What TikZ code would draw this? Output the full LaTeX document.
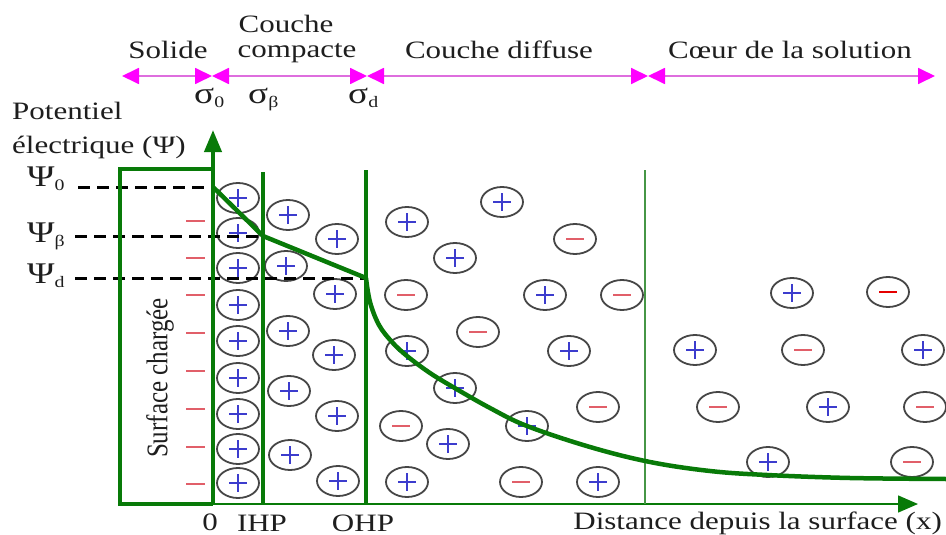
\documentclass[tikz,border=0pt]{standalone}
\usepackage{fontspec}
\setmainfont{Liberation Serif}
\usepackage{graphicx}
\usetikzlibrary{arrows.meta}
\definecolor{dgreen}{RGB}{8,122,8}
\definecolor{lgreen}{RGB}{70,150,70}
\definecolor{mag}{RGB}{255,0,255}
\definecolor{magl}{RGB}{222,110,222}
\definecolor{ring}{RGB}{70,70,70}
\definecolor{pblue}{RGB}{60,60,205}
\definecolor{mred}{RGB}{225,95,105}
\definecolor{txt}{RGB}{30,30,30}
\newcommand{\wt}[1]{\scalebox{1.24}[1]{#1}}
\newcommand{\gsub}[2]{\scalebox{1.24}[1]{#1\raisebox{-4pt}{\fontsize{16}{16}\selectfont #2}}}
\newcommand{\ionplus}[2]{%
  \draw[ionring] (#1,#2) ellipse [x radius=21pt, y radius=15pt];
  \draw[plusline] (#1-9,#2) -- (#1+9,#2) (#1,#2-9) -- (#1,#2+9);}
\newcommand{\ionminus}[2]{%
  \draw[ionring] (#1,#2) ellipse [x radius=21pt, y radius=15pt];
  \draw[minusline] (#1-9,#2) -- (#1+9,#2);}
\begin{document}
\begin{tikzpicture}[x=1pt,y=-1pt,
  lbl/.style={font=\fontsize{25}{30}\selectfont, text=txt, inner sep=0pt},
  glbl/.style={font=\fontsize{30}{32}\selectfont, text=txt, inner sep=0pt},
  ionring/.style={draw=ring, line width=1.8pt},
  plusline/.style={draw=pblue, line width=1.3pt},
  minusline/.style={draw=mred, line width=1.6pt},
  thick green/.style={draw=dgreen, line width=4pt},
  thin green/.style={draw=lgreen, line width=1.5pt},
  magarrow/.style={draw=magl, line width=1.8pt,
     {Triangle[length=17pt,width=16pt,fill=mag,color=mag]}-{Triangle[length=17pt,width=16pt,fill=mag,color=mag]}},
  dashline/.style={draw=black, line width=3pt, dash pattern=on 12pt off 7pt},
  curve/.style={draw=dgreen, line width=4.5pt, line join=round}]
\useasboundingbox (0,0) rectangle (946,535);

% top region arrows
\coordinate (t0) at (122,76);
\coordinate (t1) at (212,76);
\coordinate (t2) at (367,76);
\coordinate (t3) at (648,76);
\coordinate (t4) at (935,76);
\draw[magarrow] (t0) -- (t1);
\draw[magarrow] (t1) -- (t2);
\draw[magarrow] (t2) -- (t3);
\draw[magarrow] (t3) -- (t4);

\node[lbl] (solide) at (168,50) {\wt{Solide}};
\node[lbl] (couche1) at (286,24) {\wt{Couche}};
\node[lbl] (couche2) at (297,53) {\wt{compacte}};
\node[lbl] (diffuse) at (499,50) {\wt{Couche diffuse}};
\node[lbl] (coeur) at (790,50) {\wt{Cœur de la solution}};
\node[glbl, anchor=base west] (s0) at (194,103) {\gsub{σ}{0}};
\node[glbl, anchor=base west] (sb) at (248,103) {\gsub{σ}{β}};
\node[glbl, anchor=base west] (sd) at (348,103) {\gsub{σ}{d}};

% axis labels
\node[lbl, anchor=west] (pot) at (12,111) {\wt{Potentiel}};
\node[lbl, anchor=west] (elec) at (12,147) {\wt{électrique (Ψ)}};
\node[glbl, anchor=base west] (p0) at (27,186) {\gsub{Ψ}{0}};
\node[glbl, anchor=base west] (pb) at (27,242) {\gsub{Ψ}{β}};
\node[glbl, anchor=base west] (pd) at (27,283) {\gsub{Ψ}{d}};

% ions: compact layer
\foreach \y in {198,233,268,305,341,378,414,449,483} {\ionplus{238}{\y}}
\foreach \x/\y in {288/215,286/266,288/331,289/391,290/455,
                   337/239,335/294,334/355,337/416,338/481} {\ionplus{\x}{\y}}
% diffuse layer
\foreach \x/\y in {407/222,502/202,455/258,545/295,407/351,569/351,455/388,
                   527/426,448/444,407/482,598/482} {\ionplus{\x}{\y}}
\foreach \x/\y in {575/239,406/295,622/295,478/332,598/407,401/426,521/482}
  {\ionminus{\x}{\y}}
% bulk
\foreach \x/\y in {792/293,695/350,923/350,828/407,768/462} {\ionplus{\x}{\y}}
\foreach \x/\y in {803/350,718/407,925/407,912/462} {\ionminus{\x}{\y}}
\draw[ionring] (888,292) ellipse [x radius=21pt, y radius=15pt];
\draw[draw=red!90!black, line width=2.2pt] (879,292) -- (897,292);

% surface charges
\foreach \y in {221,258,295,333,371,409,447,484}
  \draw[minusline] (186,\y) -- (205,\y);

% dashed potential levels
\coordinate (d0a) at (78,187);  \coordinate (d0b) at (213,187);
\coordinate (dba) at (75,236);  \coordinate (dbb) at (263,236);
\coordinate (dda) at (75,278);  \coordinate (ddb) at (366,278);
\draw[dashline] (d0a) -- (d0b);
\draw[dashline] (dba) -- (dbb);
\draw[dashline] (dda) -- (ddb);

% structure lines
\coordinate (o) at (213,504);
\draw[thick green] (213,169) -- (120,169) -- (120,504) -- (o);
\draw[thin green] (o) -- (900,504);
\draw[draw=dgreen, line width=1.5pt, -{Triangle[length=20pt,width=17pt,fill=dgreen]}] (o) -- (918,504);
\draw[thick green, -{Triangle[length=22pt,width=17pt,fill=dgreen]}] (o) -- (213,130);
\draw[thick green] (263,172) -- (263,504);
\draw[thick green] (366,170) -- (366,504);
\draw[thin green] (645,170) -- (645,504);

% potential curve
\draw[curve] (213,187) -- (263,236) -- (366,278)
  plot[smooth, tension=0.6] coordinates {(366,278) (370,302) (379,325) (392,342)
  (407,356) (430,373) (453,387) (490,408) (527,426) (590,447) (650,462)
  (710,471) (767,475) (850,478) (946,479)};

\node[lbl] (zero) at (210,522) {\wt{0}};
\node[lbl] (ihp) at (262,523) {\wt{IHP}};
\node[lbl] (ohp) at (363,523) {\wt{OHP}};
\node[lbl, anchor=east] (dist) at (942,523) {\wt{Distance depuis la surface (x)}};

% rotated label
\node[lbl, rotate=90] (surf) at (160,378) {\scalebox{1}[1.2]{Surface chargée}};
\end{tikzpicture}
\end{document}
